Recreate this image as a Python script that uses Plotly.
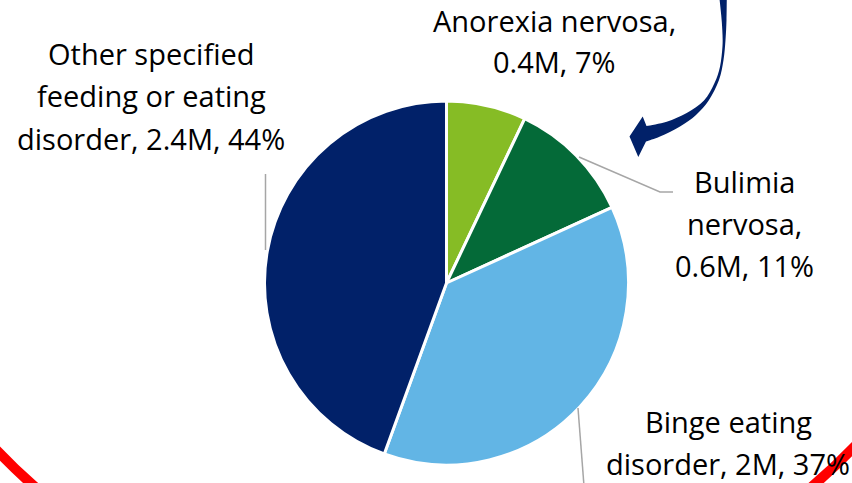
import plotly.graph_objects as go

W, H = 852, 483

# ---- data ----
names = ["Anorexia nervosa", "Bulimia nervosa", "Binge eating disorder",
         "Other specified feeding or eating disorder"]
people = ["0.4M", "0.6M", "2M", "2.4M"]
shares = [7, 11, 37, 44]
colors = ["#86BC25", "#046A38", "#62B5E5", "#012169"]
# word counts after which each label wraps to a new line
wraps = [[2], [1, 2], [2], [2, 5]]

# ---- layout helpers (pixel -> paper) ----
def px(x):
    return x / W

def py(y):
    return 1 - y / H

def pt(p):
    return f"{px(p[0]):.5f},{py(p[1]):.5f}"

def smooth(pts):
    s = ""
    n = len(pts)
    for i in range(n - 1):
        p0 = pts[i - 1] if i > 0 else pts[i]
        p1, p2 = pts[i], pts[i + 1]
        p3 = pts[i + 2] if i + 2 < n else p2
        c1 = (p1[0] + (p2[0] - p0[0]) / 6, p1[1] + (p2[1] - p0[1]) / 6)
        c2 = (p2[0] - (p3[0] - p1[0]) / 6, p2[1] - (p3[1] - p1[1]) / 6)
        s += f" C {pt(c1)} {pt(c2)} {pt(p2)}"
    return s

# pie geometry (pixels)
cx, cy, r = 446.5, 283, 182

fig = go.Figure(go.Pie(
    labels=names,
    values=shares,
    sort=False,
    direction="clockwise",
    rotation=0,
    marker=dict(colors=colors, line=dict(color="white", width=3)),
    textinfo="none",
    hoverinfo="label+percent",
    domain=dict(x=[px(cx - r), px(cx + r)], y=[py(cy + r), py(cy - r)]),
))

# label texts built from data
def label_lines(i):
    words = f"{names[i]}, {people[i]}, {shares[i]}%".split(" ")
    cuts = [0] + wraps[i] + [len(words)]
    return [" ".join(words[a:b]) for a, b in zip(cuts[:-1], cuts[1:])]

label_pos = [(554, 31), (744, 192), (728, 432), (151, 65)]  # centre x, first baseline
line_gap = 42
fsize = 29
annotations = []
for i, (lx, ly) in enumerate(label_pos):
    for j, line in enumerate(label_lines(i)):
        base = ly + j * line_gap
        annotations.append(dict(
            x=px(lx), y=py(base - 11), xref="paper", yref="paper",
            xanchor="center", yanchor="middle", showarrow=False,
            text=line, font=dict(family="Open Sans", size=fsize, color="#000000"),
        ))

shapes = []
grey = "#A6A6A6"
leaders = [
    [(579, 157), (660, 192), (673, 192)],
    [(578, 408), (584, 486)],
    [(265.5, 174), (265.5, 250)],
]
for ld in leaders:
    path = "M " + pt(ld[0]) + "".join(" L " + pt(p) for p in ld[1:])
    shapes.append(dict(type="path", xref="paper", yref="paper", path=path,
                       line=dict(color=grey, width=1.5)))

# curved arrow (decoration)
outer = [(726.8, -3), (726.5, 20), (725.5, 40), (723.5, 60), (719, 80), (709, 100),
         (696, 115), (680, 126.5), (660, 136.5), (646, 141.5)]
inner = [(646.5, 126), (666.7, 121.7), (686.7, 113), (704, 100.5), (714.5, 83),
         (720, 66.7), (722.5, 46), (722.3, 30), (721.2, 15), (719.3, -3)]
head = [(638.3, 157), (629.5, 136.5), (642.7, 116.5)]
apath = "M " + pt(outer[0]) + smooth(outer)
apath += "".join(" L " + pt(p) for p in head)
apath += " L " + pt(inner[0]) + smooth(inner) + " Z"
shapes.append(dict(type="path", xref="paper", yref="paper", path=apath,
                   fillcolor="#012169", line=dict(width=0)))

# red ring (decoration)
rpath = ("M " + pt((-30, 420)) + " C " + pt((200, 700)) + " " + pt((660, 700)) +
         " " + pt((895, 400)))
shapes.append(dict(type="path", xref="paper", yref="paper", path=rpath,
                   line=dict(color="#FF0000", width=10), layer="above"))

fig.update_layout(
    width=W, height=H,
    margin=dict(l=0, r=0, t=0, b=0),
    paper_bgcolor="white", plot_bgcolor="white",
    showlegend=False,
    annotations=annotations,
    shapes=shapes,
)

fig.write_html("out.html")
